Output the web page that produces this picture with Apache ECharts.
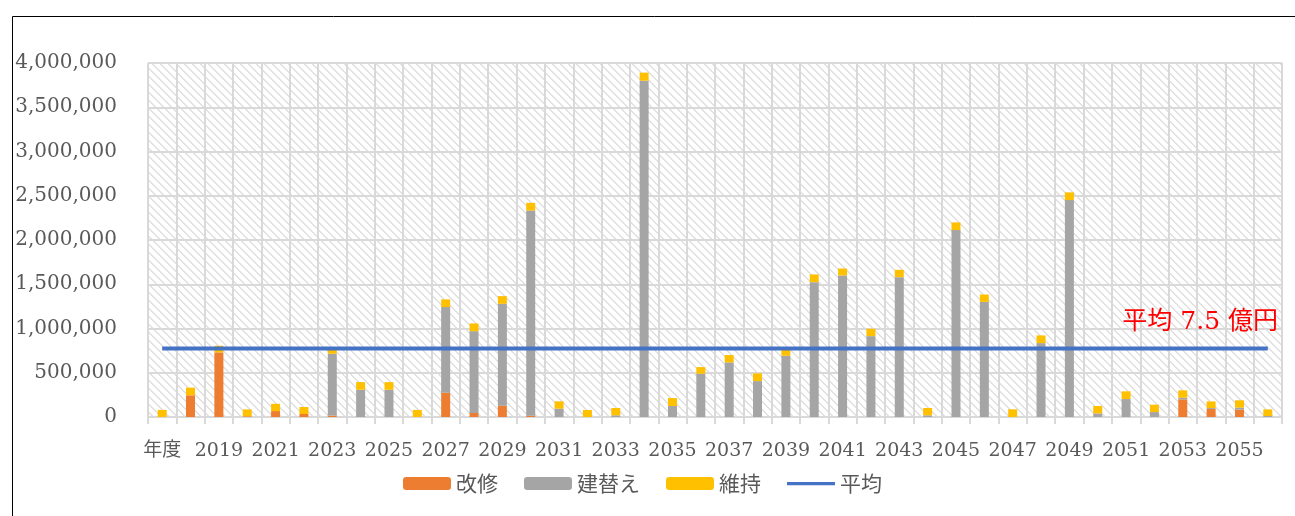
<!DOCTYPE html>
<html><head><meta charset="utf-8">
<script src="https://cdn.jsdelivr.net/npm/echarts@6/dist/echarts.min.js"></script>
<style>html,body{margin:0;padding:0;background:#fff}#c{width:1295px;height:516px}</style>
</head><body><div id="c"></div>
<script>
const categories = ['年度','2018','2019','2020','2021','2022','2023','2024','2025','2026','2027','2028','2029','2030','2031','2032','2033','2034','2035','2036','2037','2038','2039','2040','2041','2042','2043','2044','2045','2046','2047','2048','2049','2050','2051','2052','2053','2054','2055','2056'];
const kaishu = [0,245000,730000,8000,67000,34000,15000,0,0,0,275000,45000,128000,15000,0,0,0,0,0,0,0,0,0,0,0,0,0,0,0,0,0,0,0,0,0,0,199000,90000,83000,0];
const tatekae = [0,0,0,0,0,0,700000,308000,308000,0,967000,925000,1151000,2318000,94000,0,19000,3800000,124000,489000,617000,406000,692000,1524000,1599000,914000,1580000,19000,2112000,1301000,0,835000,2451000,41000,203000,56000,19000,11000,23000,11000];
const iji = [80000,87000,75000,78000,82000,79000,60000,86000,86000,80000,87000,87000,87000,87000,83000,79000,83000,91000,90000,75000,83000,87000,79000,87000,79000,83000,83000,83000,87000,83000,87000,87000,87000,83000,87000,83000,83000,75000,83000,75000];
const heikin = [775000,775000,775000,775000,775000,775000,775000,775000,775000,775000,775000,775000,775000,775000,775000,775000,775000,775000,775000,775000,775000,775000,775000,775000,775000,775000,775000,775000,775000,775000,775000,775000,775000,775000,775000,775000,775000,775000,775000,775000];
const yTicks = {min:0, max:4000000, interval:500000};
const noteText = '平均 7.5 億円';

// hatch pattern
const tile = document.createElement('canvas');
tile.width = 8; tile.height = 8;
const tctx = tile.getContext('2d');
const img = tctx.createImageData(8, 8);
for (let y = 0; y < 8; y++) for (let x = 0; x < 8; x++) {
  const d = ((x - y) % 8 + 8) % 8;
  const on = d === 0 || d === 1;
  const v = on ? 225 : 255;
  const i = (y * 8 + x) * 4;
  img.data[i] = v; img.data[i+1] = v; img.data[i+2] = v; img.data[i+3] = 255;
}
tctx.putImageData(img, 0, 0);

const FONT = '"DejaVu Serif", "Noto Sans CJK JP", serif';
const LINE_ICON = 'path://M0,0 L0.01,0 M0,5 L52,5 L52,8.5 L0,8.5 Z M52,13 L52.01,13';
const chart = echarts.init(document.getElementById('c'));
chart.setOption({
  animation: false,
  backgroundColor: '#fff',
  grid: {left: 148, right: 13, top: 63, bottom: 99, show: true,
    backgroundColor: {image: tile, repeat: 'repeat'}, borderColor: '#d9d9d9', borderWidth: 1},
  legend: {
    left: 398, top: 468, itemWidth: 48, itemHeight: 13, itemGap: 26,
    textStyle: {color: '#595959', fontSize: 21, fontFamily: '"Noto Sans CJK JP", sans-serif'},
    data: [{name:'改修'},{name:'建替え'},{name:'維持'},{name:'平均', icon: LINE_ICON, itemStyle: {color: '#4472C4'}}]
  },
  xAxis: {
    type: 'category', data: categories,
    axisLine: {lineStyle: {color: '#d9d9d9', width: 2}},
    axisTick: {show: true, interval: 0, length: 7, lineStyle: {color: '#d9d9d9', width: 2}},
    splitLine: {show: true, interval: 0, lineStyle: {color: '#d9d9d9', width: 2}},
    axisLabel: {interval: 1, margin: 25, color: '#595959', fontSize: 19, fontFamily: FONT}
  },
  yAxis: {
    type: 'value', min: yTicks.min, max: yTicks.max, interval: yTicks.interval,
    axisLine: {show: false}, axisTick: {show: false},
    splitLine: {lineStyle: {color: '#d9d9d9', width: 2}},
    axisLabel: {margin: 31, color: '#595959', fontSize: 20, fontFamily: FONT,
      formatter: v => v.toLocaleString('en-US')}
  },
  series: [
    {name: '改修', type: 'bar', stack: 't', barWidth: 9, data: kaishu, itemStyle: {color: '#ED7D31'}},
    {name: '建替え', type: 'bar', stack: 't', barWidth: 9, data: tatekae, itemStyle: {color: '#A5A5A5'}},
    {name: '維持', type: 'bar', stack: 't', barWidth: 9, data: iji, itemStyle: {color: '#FFC000'}},
    {name: '平均', type: 'line', data: heikin, symbol: 'none', showSymbol: false,
      lineStyle: {color: '#4472C4', width: 4}, itemStyle: {color: '#4472C4'}, z: 5}
  ],
  graphic: [
    {type: 'rect', left: 10, top: 14, shape: {width: 1300, height: 520}, silent: true,
      style: {fill: 'none', stroke: '#000', lineWidth: 1}, z: 100},
    {type: 'text', right: 17, top: 310, z: 100,
      style: {text: noteText, fill: '#FF0000', font: '25px "DejaVu Serif", "Noto Sans CJK JP", serif'}}
  ]
});
</script></body></html>
